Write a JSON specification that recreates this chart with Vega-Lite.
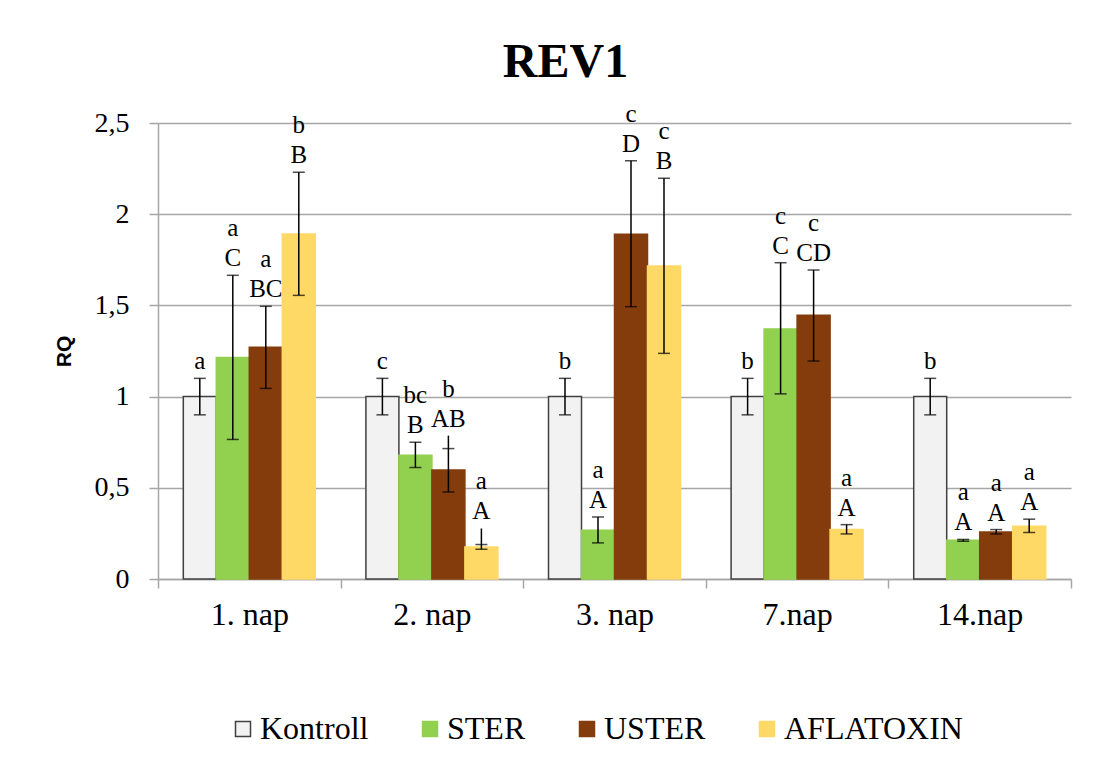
{
  "$schema": "https://vega.github.io/schema/vega-lite/v6.json",
  "autosize": "none",
  "width": 913,
  "height": 456,
  "padding": {"left": 158, "top": 123, "right": 38, "bottom": 203},
  "background": "white",
  "title": {
    "text": "REV1",
    "font": "Liberation Serif",
    "fontSize": 48,
    "fontWeight": "bold",
    "color": "black",
    "frame": "group",
    "baseline": "alphabetic",
    "offset": -23,
    "dx": -49
  },
  "data": {
    "values": [
      {"day": "1. nap", "series": "Kontroll", "value": 1.0, "lo": 0.9, "hi": 1.1, "capLo": 0.9, "capHi": 1.1, "l1": "", "l2": "a"},
      {"day": "1. nap", "series": "STER", "value": 1.215, "lo": 0.765, "hi": 1.665, "capLo": 0.765, "capHi": 1.665, "l1": "a", "l2": "C"},
      {"day": "1. nap", "series": "USTER", "value": 1.27, "lo": 1.045, "hi": 1.495, "capLo": 1.045, "capHi": 1.495, "l1": "a", "l2": "BC"},
      {"day": "1. nap", "series": "AFLATOXIN", "value": 1.892, "lo": 1.555, "hi": 2.23, "capLo": 1.555, "capHi": 2.23, "l1": "b", "l2": "B"},
      {"day": "2. nap", "series": "Kontroll", "value": 1.0, "lo": 0.9, "hi": 1.1, "capLo": 0.9, "capHi": 1.1, "l1": "", "l2": "c"},
      {"day": "2. nap", "series": "STER", "value": 0.679, "lo": 0.611, "hi": 0.75, "capLo": 0.611, "capHi": 0.75, "l1": "bc", "l2": "B"},
      {"day": "2. nap", "series": "USTER", "value": 0.597, "lo": 0.477, "hi": 0.786, "capLo": 0.477, "capHi": 0.715, "l1": "b", "l2": "AB"},
      {"day": "2. nap", "series": "AFLATOXIN", "value": 0.176, "lo": 0.163, "hi": 0.277, "capLo": 0.163, "capHi": 0.189, "l1": "a", "l2": "A"},
      {"day": "3. nap", "series": "Kontroll", "value": 1.0, "lo": 0.9, "hi": 1.1, "capLo": 0.9, "capHi": 1.1, "l1": "", "l2": "b"},
      {"day": "3. nap", "series": "STER", "value": 0.267, "lo": 0.198, "hi": 0.34, "capLo": 0.198, "capHi": 0.34, "l1": "a", "l2": "A"},
      {"day": "3. nap", "series": "USTER", "value": 1.89, "lo": 1.493, "hi": 2.293, "capLo": 1.493, "capHi": 2.293, "l1": "c", "l2": "D"},
      {"day": "3. nap", "series": "AFLATOXIN", "value": 1.716, "lo": 1.237, "hi": 2.197, "capLo": 1.237, "capHi": 2.197, "l1": "c", "l2": "B"},
      {"day": "7.nap", "series": "Kontroll", "value": 1.0, "lo": 0.9, "hi": 1.1, "capLo": 0.9, "capHi": 1.1, "l1": "", "l2": "b"},
      {"day": "7.nap", "series": "STER", "value": 1.37, "lo": 1.015, "hi": 1.734, "capLo": 1.015, "capHi": 1.734, "l1": "c", "l2": "C"},
      {"day": "7.nap", "series": "USTER", "value": 1.446, "lo": 1.195, "hi": 1.694, "capLo": 1.195, "capHi": 1.694, "l1": "c", "l2": "CD"},
      {"day": "7.nap", "series": "AFLATOXIN", "value": 0.271, "lo": 0.247, "hi": 0.298, "capLo": 0.247, "capHi": 0.298, "l1": "a", "l2": "A"},
      {"day": "14.nap", "series": "Kontroll", "value": 1.0, "lo": 0.9, "hi": 1.1, "capLo": 0.9, "capHi": 1.1, "l1": "", "l2": "b"},
      {"day": "14.nap", "series": "STER", "value": 0.212, "lo": 0.207, "hi": 0.217, "capLo": 0.207, "capHi": 0.217, "l1": "a", "l2": "A"},
      {"day": "14.nap", "series": "USTER", "value": 0.258, "lo": 0.247, "hi": 0.271, "capLo": 0.247, "capHi": 0.271, "l1": "a", "l2": "A"},
      {"day": "14.nap", "series": "AFLATOXIN", "value": 0.289, "lo": 0.255, "hi": 0.328, "capLo": 0.255, "capHi": 0.328, "l1": "a", "l2": "A"}
    ]
  },
  "encoding": {
    "x": {
      "field": "day",
      "type": "nominal",
      "sort": ["1. nap", "2. nap", "3. nap", "7.nap", "14.nap"],
      "scale": {"paddingInner": 0, "paddingOuter": 0},
      "axis": {
        "title": null,
        "labelAngle": 0,
        "labelFont": "Liberation Serif",
        "labelFontSize": 32,
        "labelColor": "black",
        "labelPadding": 11,
        "tickBand": "extent",
        "tickSize": 9,
        "tickWidth": 1.5,
        "tickColor": "#A6A6A6",
        "domainColor": "#A6A6A6",
        "domainWidth": 1.5,
        "grid": false
      }
    },
    "xOffset": {
      "field": "series",
      "type": "nominal",
      "sort": ["Kontroll", "STER", "USTER", "AFLATOXIN"],
      "scale": {"paddingInner": 0, "paddingOuter": 0.767}
    }
  },
  "layer": [
    {
      "mark": {"type": "bar", "strokeWidth": 1.5},
      "encoding": {
        "y": {
          "field": "value",
          "type": "quantitative",
          "scale": {"domain": [0, 2.5], "nice": false},
          "axis": {
            "title": "RQ",
            "titleFont": "Liberation Sans",
            "titleFontSize": 21,
            "titleFontWeight": "bold",
            "titleColor": "black",
            "titlePadding": 20,
            "values": [0, 0.5, 1, 1.5, 2, 2.5],
            "labelExpr": "replace(toString(datum.value), '.', ',')",
            "labelFont": "Liberation Serif",
            "labelFontSize": 28,
            "labelColor": "black",
            "labelPadding": 20,
            "tickSize": 9,
            "tickWidth": 1.5,
            "tickColor": "#A6A6A6",
            "domainColor": "#A6A6A6",
            "domainWidth": 1.5,
            "gridColor": "#A6A6A6",
            "gridWidth": 1.5
          }
        },
        "fill": {
          "field": "series",
          "type": "nominal",
          "sort": ["Kontroll", "STER", "USTER", "AFLATOXIN"],
          "scale": {"domain": ["Kontroll", "STER", "USTER", "AFLATOXIN"], "range": ["#F2F2F2", "#92D050", "#843C0C", "#FFD966"]},
          "legend": {
            "title": null,
            "orient": "none",
            "direction": "horizontal",
            "legendX": 69,
            "legendY": 590,
            "padding": 0,
            "symbolType": "square",
            "symbolSize": 225,
            "symbolStrokeWidth": 1.5,
            "labelFont": "Liberation Serif",
            "labelFontSize": 32,
            "labelColor": "black",
            "labelLimit": 0,
            "labelOffset": 1,
            "columnPadding": 45
          }
        },
        "stroke": {
          "field": "series",
          "type": "nominal",
          "sort": ["Kontroll", "STER", "USTER", "AFLATOXIN"],
          "scale": {"domain": ["Kontroll", "STER", "USTER", "AFLATOXIN"], "range": ["#404040", "#92D050", "#843C0C", "#FFD966"]}
        }
      }
    },
    {
      "mark": {"type": "rule", "color": "black", "strokeWidth": 1.5},
      "encoding": {
        "y": {"field": "lo", "type": "quantitative"},
        "y2": {"field": "hi"}
      }
    },
    {
      "mark": {"type": "tick", "color": "black", "thickness": 1.5, "size": 12},
      "encoding": {
        "y": {"field": "capLo", "type": "quantitative"}
      }
    },
    {
      "mark": {"type": "tick", "color": "black", "thickness": 1.5, "size": 12},
      "encoding": {
        "y": {"field": "capHi", "type": "quantitative"}
      }
    },
    {
      "mark": {"type": "text", "font": "Liberation Serif", "fontSize": 25, "color": "black", "baseline": "alphabetic", "dy": -9},
      "encoding": {
        "y": {"field": "hi", "type": "quantitative"},
        "text": {"field": "l2"}
      }
    },
    {
      "mark": {"type": "text", "font": "Liberation Serif", "fontSize": 25, "color": "black", "baseline": "alphabetic", "dy": -39},
      "encoding": {
        "y": {"field": "hi", "type": "quantitative"},
        "text": {"field": "l1"}
      }
    }
  ],
  "config": {
    "view": {"stroke": null}
  }
}
